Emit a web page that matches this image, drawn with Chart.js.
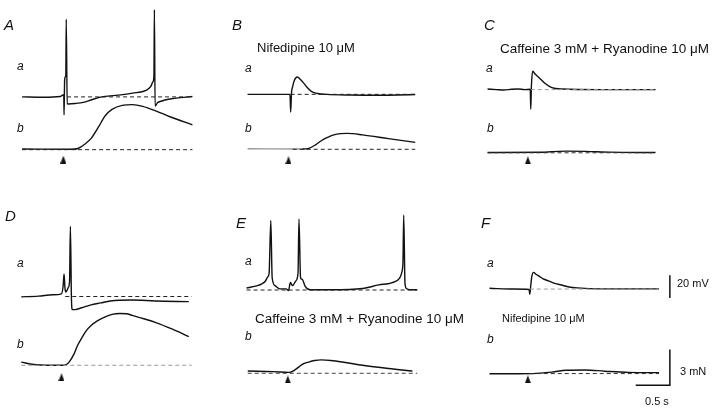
<!DOCTYPE html>
<html>
<head>
<meta charset="utf-8">
<script src="https://cdn.jsdelivr.net/npm/chart.js@4.4.1/dist/chart.umd.min.js"></script>
<style>
  html, body { margin: 0; padding: 0; background: #fff; }
  #fig { position: relative; width: 720px; height: 412px; overflow: hidden;
         font-family: "Liberation Sans", Arial, Helvetica, sans-serif; color: #111; }
  #fig canvas { position: absolute; }
  .lbl { position: absolute; line-height: 1; white-space: nowrap; }
  .panel { font-style: italic; font-size: 15px; }
  .trace { font-style: italic; font-size: 12px; }
</style>
</head>
<body>
<div id="fig"></div>
<script>
// [time from stimulus (s), membrane potential change (mV)] for traces "a"
const aTraceA = [[-0.62,0],[-0.31,-0.3],[-0.06,0.3],[-0.02,1.7],[-0.008,1.7],[-0.004,-15.8],[0.004,14],[0.012,17.5],[0.022,19],[0.028,68.3],[0.042,-6.1],[0.06,-6.2],[0.16,-5.8],[0.28,-4.8],[0.40,-2.5],[0.55,0],[0.75,1.3],[1.0,3.3],[1.2,5.8],[1.27,9.2],[1.30,13.3],[1.315,18.3],[1.322,76.7],[1.332,-8.1],[1.37,-5],[1.42,-3.8],[1.55,-1.9],[1.70,-0.6],[1.88,0.3]];
const aTraceB = [[-0.632,0],[-0.01,0],[0,-15.6],[0.012,1],[0.03,7],[0.052,12],[0.098,15.3],[0.14,13.2],[0.197,9.4],[0.253,5.3],[0.309,2.3],[0.393,0.7],[0.52,0],[0.87,-0.6],[1.29,-0.8],[1.57,-0.6],[1.826,-0.2]];
const aTraceC = [[-0.632,0.5],[-0.5,0],[-0.393,-0.3],[-0.28,0.3],[-0.183,0.5],[-0.09,0],[-0.007,0.25],[0,-17.3],[0.01,3.6],[0.028,16.1],[0.07,13.2],[0.126,10.3],[0.211,5.3],[0.309,1.7],[0.449,0.5],[1.011,0],[1.826,0]];
const aTraceD = [[-0.604,-0.3],[-0.351,0.3],[-0.14,1.5],[-0.014,2.3],[0.011,9.4],[0.024,19.7],[0.037,7.8],[0.049,4.0],[0.067,5.3],[0.087,8],[0.105,13.6],[0.117,61.3],[0.133,-3],[0.145,-11.4],[0.187,-11.4],[0.281,-9.8],[0.421,-7.3],[0.562,-5.6],[0.702,-3.9],[1.025,-3.1],[1.362,-3.9],[1.854,-4.5]];
const aTraceE = [[-0.625,1.8],[-0.466,3.8],[-0.4,5.4],[-0.348,7.9],[-0.316,11.3],[-0.295,14.6],[-0.27,60.7],[-0.25,10.7],[-0.208,3.8],[-0.138,1.0],[-0.045,1.0],[-0.011,-0.4],[0.017,6.5],[0.049,3.8],[0.096,7.9],[0.129,14.8],[0.143,62],[0.166,10.7],[0.19,9.3],[0.236,2.9],[0.306,0.2],[0.611,0.2],[1.074,1.3],[1.313,4.5],[1.5,6.3],[1.618,10.4],[1.65,15.4],[1.667,24.6],[1.678,65.4],[1.697,5.2],[1.725,1.0],[1.781,0.2],[1.875,0.2]];
const aTraceF = [[-0.59,0.7],[-0.239,0],[-0.01,-0.4],[0,-4.6],[0.014,2.9],[0.028,10.4],[0.056,14.6],[0.091,12.9],[0.136,11.3],[0.197,8.9],[0.277,7.1],[0.365,5.0],[0.463,3.5],[0.576,1.8],[0.698,1.0],[1.025,0.2],[1.892,0.2]];

// [time (s), tension (mN)] for traces "b"
const bTraceA = [[-0.62,0.05],[0.1,0.03],[0.2,0.1],[0.3,0.46],[0.4,1.0],[0.5,1.9],[0.6,2.86],[0.7,3.4],[0.85,3.74],[1.0,3.8],[1.15,3.66],[1.35,3.26],[1.55,2.78],[1.88,2.1]];
const bTraceB = [[-0.632,0.05],[0.169,0.02],[0.267,0.08],[0.365,0.38],[0.449,0.72],[0.548,1.02],[0.632,1.22],[0.73,1.32],[0.829,1.34],[1.053,1.22],[1.433,0.9],[1.826,0.58]];
const bTraceC = [[-0.632,0.02],[0.169,0.04],[0.309,0.1],[0.52,0.14],[0.8,0.12],[1.15,0.06],[1.826,0.02]];
const bTraceD = [[-0.604,0.26],[-0.421,0.06],[-0.211,0],[0,0],[0.056,0.06],[0.098,0.26],[0.169,0.93],[0.225,1.7],[0.281,2.26],[0.351,2.9],[0.421,3.33],[0.506,3.7],[0.604,4.0],[0.73,4.26],[0.843,4.34],[0.941,4.32],[1.025,4.18],[1.194,3.9],[1.362,3.6],[1.615,3.02],[1.854,2.4]];
const bTraceE = [[-0.608,0.19],[-0.232,0.14],[0.003,0.08],[0.077,0.26],[0.143,0.54],[0.204,0.78],[0.284,0.94],[0.372,1.07],[0.47,1.12],[0.611,1.07],[0.822,0.9],[1.074,0.67],[1.454,0.4],[1.805,0.19]];
const bTraceF = [[-0.59,-0.02],[0.042,0],[0.323,0.12],[0.534,0.28],[0.815,0.3],[1.095,0.2],[1.447,0.1],[1.892,0.08]];

// resting levels shown dashed: [start, end] in s, for a and b
const restA = [[0.04, 1.88], [-0.62, 1.88]];
const restB = [[0, 1.826], [0.03, 1.826]];
const restC = [[0, 1.826], [-0.632, 1.826]];
const restD = [[0.042, 1.896], [-0.604, 1.896]];
const restE = [[-0.625, 1.875], [-0.608, 1.875]];
const restF = [[0, 1.892], [0, 1.892]];

// stimulus markers (s) and calibration
const stimTimes = [-0.014, -0.032, -0.042, -0.014, -0.021, -0.028];
const calMv = 20, calMn = 3, calS = 0.5;

// figure geometry
const PX_PER_S = 71.2, PX_PER_MV = 1.2, PX_PER_MN = 12.5;
const panels = [
  { left: 0,   top: 0,   w: 232, h: 190, t0x: 62,    a0y: 97,    b0y: 152.7, arrowDy: 10.5, restCol: ['#222', '#222'] },
  { left: 232, top: 0,   w: 240, h: 190, t0x: 288,   a0y: 94.3,  b0y: 152.3, arrowDy: 11.5, restCol: ['#222', '#222'] },
  { left: 472, top: 0,   w: 248, h: 190, t0x: 528,   a0y: 89.3,  b0y: 156,   arrowDy: 8,    restCol: ['#999', '#333'] },
  { left: 0,   top: 190, w: 232, h: 222, t0x: 60,    a0y: 296.3, b0y: 368.3, arrowDy: 12.5, restCol: ['#222', '#999'] },
  { left: 232, top: 190, w: 240, h: 222, t0x: 286.5, a0y: 289.5, b0y: 376.7, arrowDy: 6.5,  restCol: ['#222', '#444'] },
  { left: 472, top: 190, w: 248, h: 222, t0x: 527,   a0y: 288.5, b0y: 377,   arrowDy: 6,    restCol: ['#999', '#333'] }
];

const labels = [
  ['A', 'panel', 4, 17.3], ['B', 'panel', 232, 17.3], ['C', 'panel', 484, 17.3],
  ['D', 'panel', 5, 208], ['E', 'panel', 236, 215.3], ['F', 'panel', 481, 215.3],
  ['a', 'trace', 17, 60], ['b', 'trace', 17, 122], ['a', 'trace', 245, 62], ['b', 'trace', 245, 122],
  ['a', 'trace', 486, 62], ['b', 'trace', 487, 122], ['a', 'trace', 17, 257], ['b', 'trace', 17, 338],
  ['a', 'trace', 245, 255], ['b', 'trace', 245, 330], ['a', 'trace', 487, 257], ['b', 'trace', 487, 333],
  ['Nifedipine 10 μM', 13, 257, 41],
  ['Caffeine 3 mM + Ryanodine 10 μM', 13.5, 500, 41.5],
  ['Caffeine 3 mM + Ryanodine 10 μM', 13.5, 255, 311.8],
  ['Nifedipine 10 μM', 11, 502, 313.3],
  ['20 mV', 11, 677, 278.2],
  ['3 mN', 11, 680, 365.7],
  ['0.5 s', 11, 645, 396.2]
];

const fig = document.getElementById('fig');

function arrowImage() {
  const c = document.createElement('canvas');
  c.width = 6; c.height = 8;
  const g = c.getContext('2d');
  g.fillStyle = '#111';
  g.beginPath(); g.moveTo(3, 0); g.lineTo(6, 8); g.lineTo(0, 8); g.closePath(); g.fill();
  return c;
}
const arrow = arrowImage();

function pts(arr) { return arr.map(([x, y]) => ({ x, y })); }

function trace(data, axis, extra) {
  return Object.assign({
    data: pts(data), yAxisID: axis, borderColor: '#111', borderWidth: 1.4,
    pointRadius: 0, cubicInterpolationMode: 'monotone', fill: false
  }, extra || {});
}

function rest(range, axis, color) {
  return { data: pts([[range[0], 0], [range[1], 0]]), yAxisID: axis, borderColor: color,
    borderWidth: 1, borderDash: [4, 3], pointRadius: 0, tension: 0, fill: false };
}

function drawPanel(i, aTrace, bTrace, restRanges, extraSets, bOpts) {
  const p = panels[i];
  const cv = document.createElement('canvas');
  cv.width = p.w; cv.height = p.h;
  cv.style.left = p.left + 'px';
  cv.style.top = p.top + 'px';
  fig.appendChild(cv);

  const arrowLevel = -p.arrowDy / PX_PER_MN;
  const datasets = [
    rest(restRanges[0], 'ya', p.restCol[0]),
    rest(restRanges[1], 'yb', p.restCol[1]),
    trace(aTrace, 'ya'),
    trace(bTrace, 'yb', bOpts),
    { data: [{ x: stimTimes[i], y: arrowLevel }], yAxisID: 'yb', showLine: false,
      pointStyle: arrow, pointRadius: 4 }
  ].concat(extraSets || []);

  new Chart(cv.getContext('2d'), {
    type: 'line',
    data: { datasets },
    options: {
      responsive: false,
      animation: false,
      events: [],
      layout: { padding: 0 },
      plugins: { legend: { display: false }, tooltip: { enabled: false } },
      scales: {
        x: { type: 'linear', display: false,
             min: (p.left - p.t0x) / PX_PER_S, max: (p.left + p.w - p.t0x) / PX_PER_S },
        ya: { type: 'linear', display: false,
              min: -(p.top + p.h - p.a0y) / PX_PER_MV, max: (p.a0y - p.top) / PX_PER_MV },
        yb: { type: 'linear', display: false,
              min: -(p.top + p.h - p.b0y) / PX_PER_MN, max: (p.b0y - p.top) / PX_PER_MN }
      }
    }
  });
}

// calibration bars sit right of panel F
const calT = 2.05, calMvFrom = -7.9, calMnFrom = -0.98;
const calSets = [
  { data: pts([[calT, calMvFrom], [calT, calMvFrom + calMv]]), yAxisID: 'ya',
    borderColor: '#111', borderWidth: 1.5, pointRadius: 0, tension: 0 },
  { data: pts([[calT - calS, calMnFrom], [calT, calMnFrom], [calT, calMnFrom + calMn]]), yAxisID: 'yb',
    borderColor: '#111', borderWidth: 1.5, pointRadius: 0, tension: 0 }
];

drawPanel(0, aTraceA, bTraceA, restA);
drawPanel(1, aTraceB, bTraceB, restB, null,
  { segment: { borderColor: ctx => ctx.p1.parsed.x <= 0.2 ? '#999' : undefined } });
drawPanel(2, aTraceC, bTraceC, restC);
drawPanel(3, aTraceD, bTraceD, restD);
drawPanel(4, aTraceE, bTraceE, restE);
drawPanel(5, aTraceF, bTraceF, restF, calSets);

labels.forEach(([text, kind, x, y]) => {
  const d = document.createElement('div');
  d.className = 'lbl' + (typeof kind === 'string' ? ' ' + kind : '');
  if (typeof kind === 'number') d.style.fontSize = kind + 'px';
  d.textContent = text;
  d.style.left = x + 'px';
  d.style.top = y + 'px';
  fig.appendChild(d);
});
</script>
</body>
</html>
